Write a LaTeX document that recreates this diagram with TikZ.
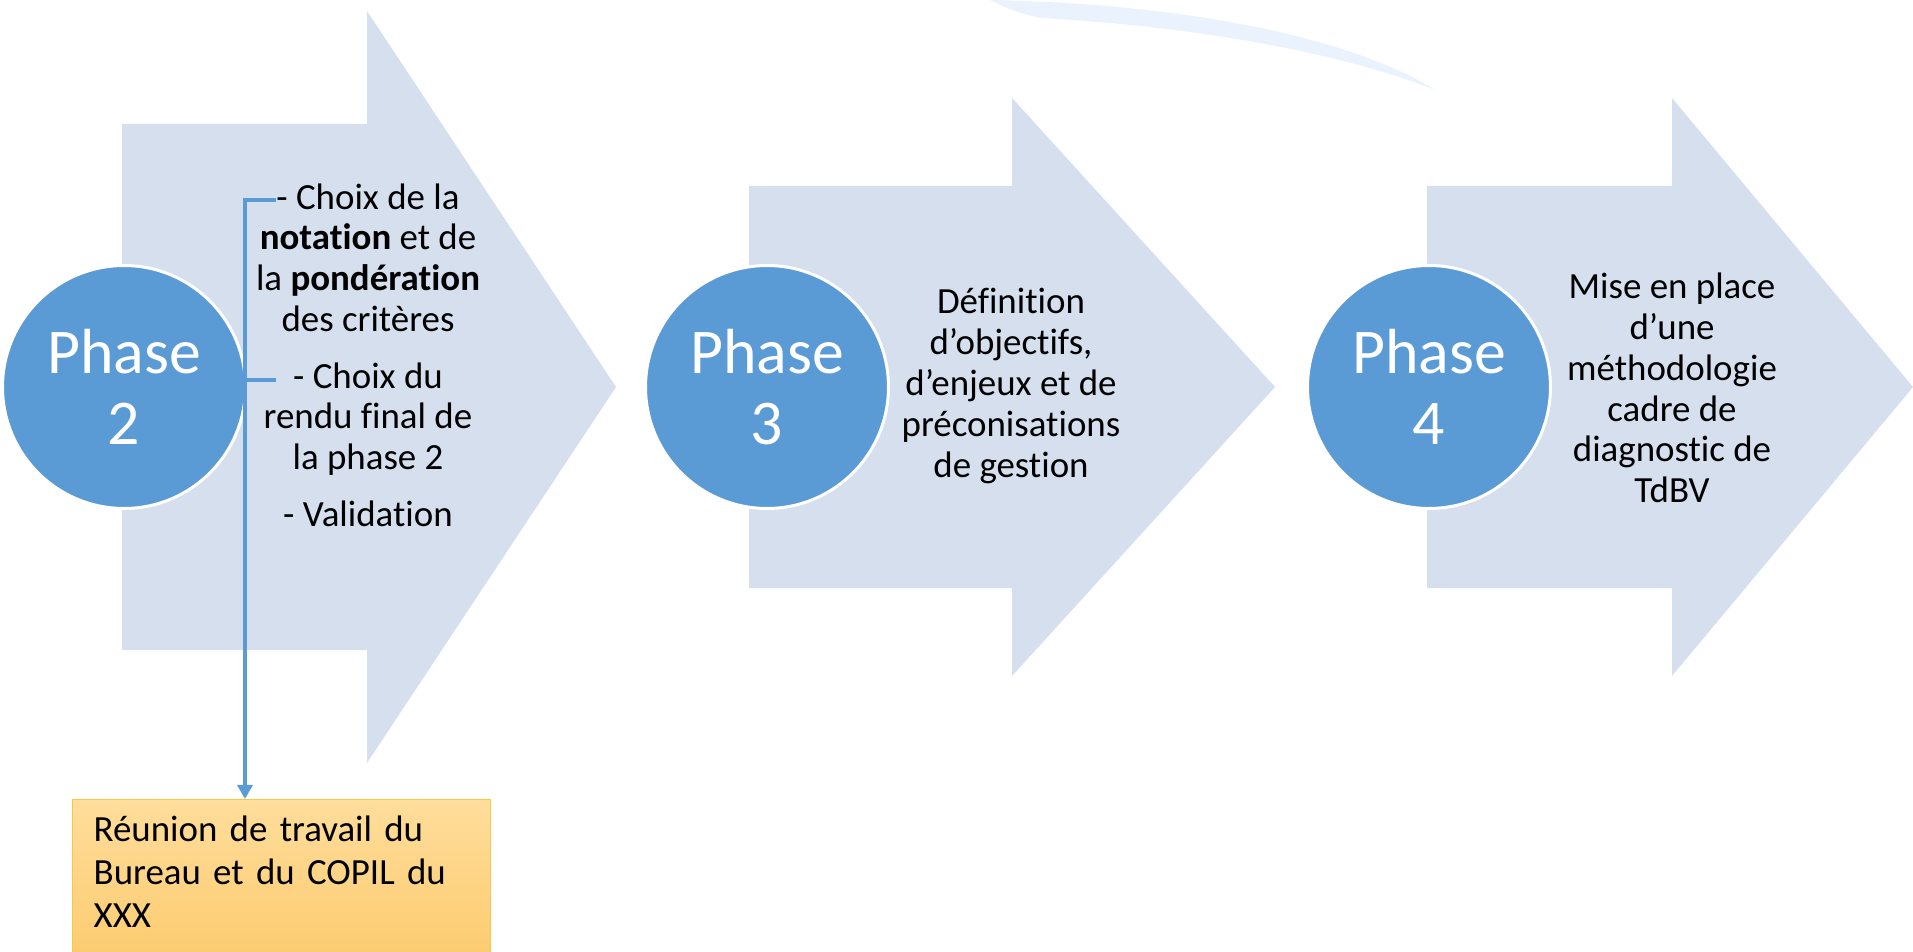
\documentclass[tikz,border=0pt]{standalone}
\usepackage{fontspec}
\setmainfont{Carlito}[Ligatures=NoCommon]
\usetikzlibrary{arrows.meta}
\definecolor{arrowfill}{RGB}{213,223,238}
\definecolor{phaseblue}{RGB}{91,155,213}
\definecolor{boxtop}{RGB}{255,221,155}
\definecolor{boxbottom}{RGB}{251,198,98}
\definecolor{boxline}{RGB}{247,200,70}
\definecolor{swoosh}{RGB}{234,243,253}
\tikzset{
  bigarrow/.style={fill=arrowfill},
  phase/.style={circle, fill=phaseblue, draw=white, line width=1.7pt, minimum size=4.86cm, inner sep=0pt,
    text=white, align=center, font=\fontsize{36.3}{40.8}\selectfont},
  desc/.style={align=center, font=\fontsize{21}{23.2}\selectfont},
  meeting/.style={draw=boxline, line width=0.8pt, top color=boxtop, bottom color=boxbottom, align=left,
    text width=7.52cm, inner xsep=0.42cm, inner ysep=0.32cm, text depth=3cm, font=\fontsize{21}{24.4}\selectfont},
  link/.style={draw=phaseblue, line width=1.9pt},
}
\begin{document}
\begin{tikzpicture}[x=0.02cm, y=-0.02cm]
    \useasboundingbox (0,0) rectangle (1913,952);
    \clip (0,0) rectangle (1913,952);
    \fill[swoosh] (990,0) .. controls (1200,4) and (1360,42) .. (1435,90) .. controls (1340,52) and (1190,26) .. (1040,18) .. controls (1010,10) .. cycle;
    \fill[bigarrow] (122,124) -- (367,124) -- (367,11) -- (616,387) -- (367,763) -- (367,650) -- (122,650) -- cycle;
    \fill[bigarrow] (749,186) -- (1012,186) -- (1012,98) -- (1275,387) -- (1012,676) -- (1012,588) -- (749,588) -- cycle;
    \fill[bigarrow] (1427,186) -- (1672,186) -- (1672,98) -- (1913,387) -- (1672,676) -- (1672,588) -- (1427,588) -- cycle;
    \node[phase] (p2) at (124,387) {Phase\\2};
    \node[phase] (p3) at (767,387) {Phase\\3};
    \node[phase] (p4) at (1429,387) {Phase\\4};
    \node[desc] (t2) at (368,355) {- Choix de la\\\textbf{notation} et de\\la \textbf{pondération}\\des critères\\[9pt]- Choix du\\rendu final de\\la phase 2\\[9pt]- Validation};
    \node[desc] (t3) at (1011,386) {Définition\\d’objectifs,\\d’enjeux et de\\préconisations\\de gestion};
    \node[desc] (t4) at (1672,388) {Mise en place\\d’une\\méthodologie\\cadre de\\diagnostic de\\TdBV};
    \node[meeting, anchor=north west] (reunion) at (72,799) {Réunion de travail du\\Bureau et du COPIL du\\XXX};
    \coordinate (b1) at (276,200);
    \coordinate (b2) at (276,380);
    \coordinate (bk) at (245,200);
    \draw[link] (b2) -- (b2 -| bk);
    \draw[link, -{Triangle[width=8.5pt,length=8pt]}] (b1) -- (bk) -- (bk |- reunion.north);
\end{tikzpicture}
\end{document}
